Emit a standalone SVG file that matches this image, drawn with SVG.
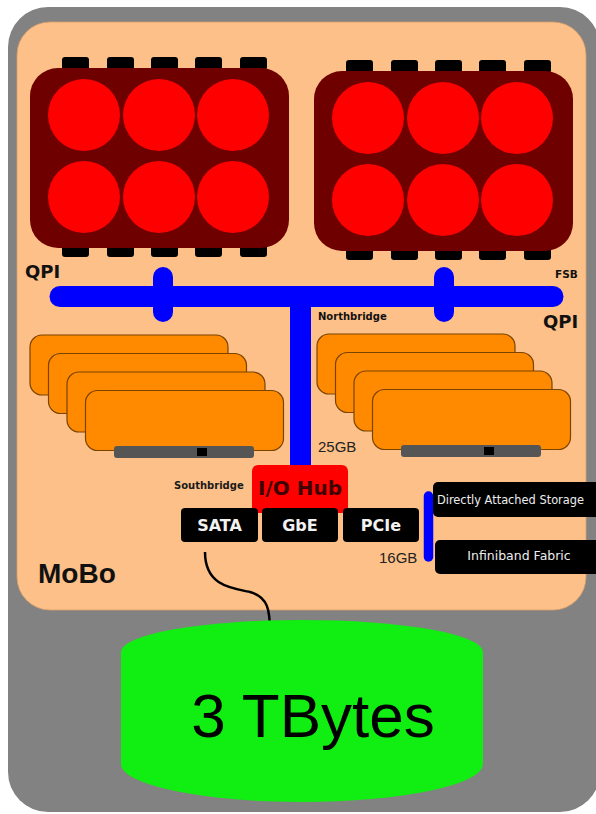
<svg xmlns="http://www.w3.org/2000/svg" width="596" height="814" viewBox="0 0 596 814">
  <style>
    .cpu { fill: #6e0000; }
    .core { fill: #ff0000; }
    .pin { fill: #000000; }
    .dimm { fill: #ff8a00; stroke: #7a4300; stroke-width: 1.2; }
    .slot { fill: #555555; }
    .notch { fill: #000000; }
    .bus { stroke: #0000ff; fill: none; stroke-linecap: round; }
    .port { fill: #000000; }
    .bold { font-family: "DejaVu Sans", Verdana, sans-serif; font-weight: bold; }
    .plain { font-family: "Liberation Sans", Arial, sans-serif; }
    .portText { font-family: "DejaVu Sans", Verdana, sans-serif; font-weight: bold; font-size: 16px; fill: #f2f2f2; text-anchor: middle; }
    .ext { font-family: "DejaVu Sans", Verdana, sans-serif; font-size: 12.5px; fill: #eeeeee; }
  </style>
  <defs>
    <!-- one CPU package: die, 2x3 cores, pins top and bottom -->
    <g id="cpuShape">
      <rect class="pin" x="32" y="0" width="27" height="13" rx="3"/>
      <rect class="pin" x="77" y="0" width="27" height="13" rx="3"/>
      <rect class="pin" x="121" y="0" width="27" height="13" rx="3"/>
      <rect class="pin" x="165" y="0" width="27" height="13" rx="3"/>
      <rect class="pin" x="210" y="0" width="27" height="13" rx="3"/>
      <rect class="pin" x="32" y="187" width="27" height="13" rx="3"/>
      <rect class="pin" x="77" y="187" width="27" height="13" rx="3"/>
      <rect class="pin" x="121" y="187" width="27" height="13" rx="3"/>
      <rect class="pin" x="165" y="187" width="27" height="13" rx="3"/>
      <rect class="pin" x="210" y="187" width="27" height="13" rx="3"/>
      <rect class="cpu" x="0" y="11" width="259" height="180" rx="28"/>
      <circle class="core" cx="54" cy="58" r="36"/>
      <circle class="core" cx="129" cy="58" r="36"/>
      <circle class="core" cx="203" cy="58" r="36"/>
      <circle class="core" cx="54" cy="140" r="36"/>
      <circle class="core" cx="129" cy="140" r="36"/>
      <circle class="core" cx="203" cy="140" r="36"/>
    </g>
    <!-- a stack of four memory modules -->
    <g id="dimmStack">
      <rect class="dimm" x="0" y="0" width="198" height="60" rx="12"/>
      <rect class="dimm" x="18.5" y="18.5" width="198" height="60" rx="12"/>
      <rect class="dimm" x="37" y="37" width="198" height="60" rx="12"/>
      <rect class="dimm" x="55.5" y="55.5" width="198" height="60" rx="12"/>
      <rect class="slot" x="84" y="111" width="140" height="12" rx="3"/>
      <rect class="notch" x="167" y="113" width="10" height="8"/>
    </g>
  </defs>

  <!-- chassis and motherboard -->
  <g id="chassis">
    <rect x="8" y="7" width="592" height="805" rx="40" fill="#828282"/>
    <rect x="17" y="22" width="569" height="588" rx="33" fill="#fdc088" stroke="#d9a06c" stroke-width="0.8"/>
  </g>

  <g id="cpu1"><use href="#cpuShape" x="30" y="57"/></g>
  <g id="cpu2"><use href="#cpuShape" x="314" y="60"/></g>

  <g id="memory-left"><use href="#dimmStack" x="30" y="335"/></g>
  <g id="memory-right"><use href="#dimmStack" x="317" y="334"/></g>

  <!-- interconnects -->
  <g id="connectors">
    <line class="bus" x1="60" y1="296.5" x2="553" y2="296.5" stroke-width="21"/>
    <line class="bus" x1="163" y1="277" x2="163" y2="312" stroke-width="20"/>
    <line class="bus" x1="444" y1="277" x2="444" y2="312" stroke-width="20"/>
    <rect x="290" y="296" width="21" height="172" fill="#0000ff"/>
    <line class="bus" x1="428.5" y1="496" x2="428.5" y2="557" stroke-width="9.5"/>
    <path d="M205,552 C205,585 230,588 250,592 C268,597 270,610 270,632" fill="none" stroke="#000000" stroke-width="2.5"/>
  </g>

  <g id="iohub">
    <rect x="252" y="465" width="96" height="48" rx="6" fill="#ff0000"/>
    <text class="bold" x="300" y="495" font-size="20" fill="#3e0000" text-anchor="middle">I/O Hub</text>
  </g>

  <g id="sata">
    <rect class="port" x="181" y="508" width="77" height="34" rx="4"/>
    <text class="portText" x="219.5" y="531">SATA</text>
  </g>
  <g id="gbe">
    <rect class="port" x="262" y="508" width="76" height="34" rx="4"/>
    <text class="portText" x="300" y="531">GbE</text>
  </g>
  <g id="pcie">
    <rect class="port" x="343" y="508" width="76" height="34" rx="4"/>
    <text class="portText" x="381" y="531">PCIe</text>
  </g>

  <!-- external boxes run off the right edge of the board -->
  <g id="das">
    <path class="port" d="M438,482 H596 V517 H438 A5,5 0 0 1 433,512 V487 A5,5 0 0 1 438,482 Z"/>
    <text class="ext" x="437" y="504" font-size="11.5" textLength="147" lengthAdjust="spacingAndGlyphs">Directly Attached Storage</text>
  </g>
  <g id="infiniband">
    <path class="port" d="M440,540 H596 V574 H440 A5,5 0 0 1 435,569 V545 A5,5 0 0 1 440,540 Z"/>
    <text class="ext" x="519" y="560" text-anchor="middle">Infiniband Fabric</text>
  </g>

  <g id="storage">
    <path d="M121,652 A181,32 0 0 1 483,652 L483,764 A181,38 0 0 1 121,764 Z" fill="#11ee11"/>
    <text class="plain" x="313" y="737" font-size="62" fill="#000000" text-anchor="middle">3 TBytes</text>
  </g>

  <!-- board labels -->
  <g id="labels">
    <text class="bold" x="25" y="278" font-size="18" fill="#111111">QPI</text>
    <text class="bold" x="543" y="328" font-size="18" fill="#111111">QPI</text>
    <text class="bold" x="555" y="278" font-size="10.5" fill="#111111">FSB</text>
    <text class="bold" x="318" y="320" font-size="10" fill="#111111">Northbridge</text>
    <text class="bold" x="174" y="489" font-size="10" fill="#1a1a1a">Southbridge</text>
    <text class="plain" x="318" y="452" font-size="15" fill="#222222">25GB</text>
    <text class="plain" x="379" y="563" font-size="15" fill="#222222">16GB</text>
    <text x="38" y="583" font-family="Liberation Sans, Arial, sans-serif" font-weight="bold" font-size="28" fill="#111111">MoBo</text>
  </g>
</svg>
